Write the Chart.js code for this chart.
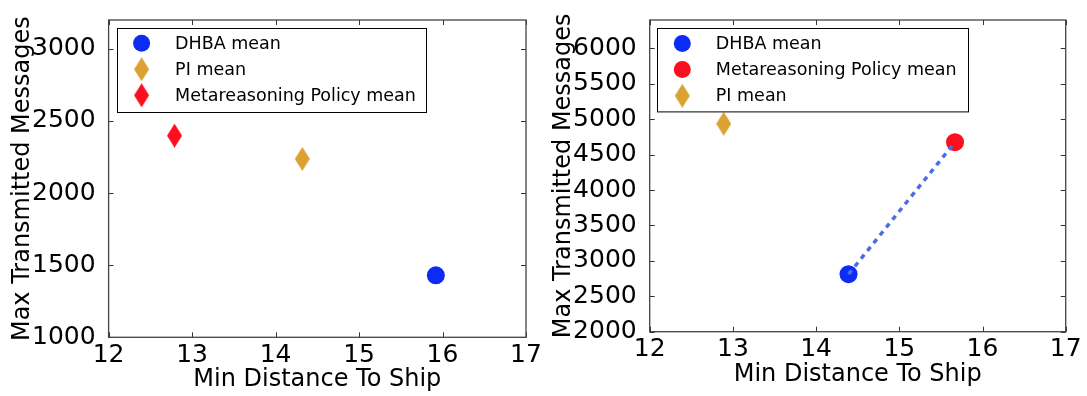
<!DOCTYPE html>
<html><head><meta charset="utf-8">
<script src="https://cdn.jsdelivr.net/npm/chart.js@4.4.0/dist/chart.umd.min.js"></script>
<style>
html,body{margin:0;padding:0;background:#fff;}
#wrap{position:relative;width:1087px;height:396px;overflow:hidden;background:#fff;}
#c1{position:absolute;left:0;top:0;}
#c2{position:absolute;left:540px;top:0;}
</style></head><body>
<div id="wrap"><canvas id="c1" width="540" height="396"></canvas><canvas id="c2" width="547" height="396"></canvas></div>
<script>
// ---- data ----
const xTicks = [12, 13, 14, 15, 16, 17];
const leftYTicks = [1000, 1500, 2000, 2500, 3000];
const rightYTicks = [2000, 2500, 3000, 3500, 4000, 4500, 5000, 5500, 6000];
const xTitle = 'Min Distance To Ship';
const yTitle = 'Max Transmitted Messages';

// left panel
const leftDhbaX = [15.92], leftDhbaY = [1430];
const leftPiX = [14.32], leftPiY = [2237];
const leftMetaX = [12.79], leftMetaY = [2398];
const leftLegend = ['DHBA mean', 'PI mean', 'Metareasoning Policy mean'];

// right panel
const rightDhbaX = [14.39], rightDhbaY = [2812];
const rightMetaX = [15.67], rightMetaY = [4676];
const rightPiX = [12.89], rightPiY = [4935];
const rightLegend = ['DHBA mean', 'Metareasoning Policy mean', 'PI mean'];

// ---- styles ----
const BLUE = '#0c2cf6', RED = '#fb0f1e', GOLD = '#d9a232', LINE = '#4a6fe0';
Chart.defaults.font.family = "'DejaVu Sans', sans-serif";
Chart.defaults.color = '#000';

function makeDiamond(color) {
  const c = document.createElement('canvas');
  const w = 15, h = 24; c.width = w; c.height = h;
  const g = c.getContext('2d');
  g.fillStyle = color; g.beginPath();
  g.moveTo(w / 2, 0); g.lineTo(w, h / 2); g.lineTo(w / 2, h); g.lineTo(0, h / 2);
  g.closePath(); g.fill();
  return c;
}
const toPts = (xs, ys) => xs.map((x, i) => ({ x: x, y: ys[i] }));

const mplPlugin = {
  id: 'mpl',
  afterDraw(chart) {
    const o = chart.options.plugins.mpl;
    const { ctx, chartArea: a, scales: { x, y } } = chart;
    ctx.save();
    // inward ticks on all sides
    ctx.strokeStyle = '#333'; ctx.lineWidth = 1;
    ctx.beginPath();
    o.xTicks.forEach(v => {
      const p = Math.round(x.getPixelForValue(v)) + 0.5;
      ctx.moveTo(p, a.bottom); ctx.lineTo(p, a.bottom - 5);
      ctx.moveTo(p, a.top); ctx.lineTo(p, a.top + 5);
    });
    o.yTicks.forEach(v => {
      const p = Math.round(y.getPixelForValue(v)) + 0.5;
      ctx.moveTo(a.left, p); ctx.lineTo(a.left + 5, p);
      ctx.moveTo(a.right, p); ctx.lineTo(a.right - 5, p);
    });
    ctx.stroke();
    // frame
    ctx.strokeStyle = '#444'; ctx.lineWidth = 1.3;
    ctx.strokeRect(a.left, a.top, a.right - a.left, a.bottom - a.top);
    // legend
    const L = o.legend;
    const lx = a.left + L.dx, ly = a.top + L.dy;
    ctx.fillStyle = '#fff';
    ctx.fillRect(lx, ly, L.w, L.h);
    ctx.strokeStyle = '#000'; ctx.lineWidth = 1;
    ctx.strokeRect(Math.round(lx) + 0.5, Math.round(ly) + 0.5, L.w, L.h);
    ctx.font = L.fontSize + "px 'DejaVu Sans'";
    ctx.textBaseline = 'middle'; ctx.textAlign = 'left';
    L.items.forEach((it, i) => {
      const cy = ly + L.firstRow + i * L.rowH;
      const mx = lx + L.markerX;
      if (it.shape === 'circle') {
        ctx.fillStyle = it.color; ctx.beginPath();
        ctx.arc(mx, cy, 8.5, 0, Math.PI * 2); ctx.fill();
      } else {
        const d = makeDiamond(it.color);
        ctx.drawImage(d, mx - d.width / 2, cy - d.height / 2);
      }
      ctx.fillStyle = '#000';
      ctx.fillText(it.label, lx + L.textX, cy + 1);
    });
    ctx.restore();
  }
};

function makeChart(id, cfg) {
  return new Chart(document.getElementById(id), {
    type: 'scatter',
    data: { datasets: cfg.datasets },
    options: {
      responsive: false, animation: false, devicePixelRatio: 1,
      layout: { padding: cfg.padding },
      plugins: {
        legend: { display: false }, tooltip: { enabled: false },
        mpl: { xTicks: xTicks, yTicks: cfg.yTicks, legend: cfg.legend }
      },
      scales: {
        x: {
          type: 'linear', min: 12, max: 17,
          grid: { display: false }, border: { display: false },
          ticks: { font: { size: 25 }, color: '#000', padding: -5, maxRotation: 0, callback: v => String(v) },
          afterBuildTicks: s => { s.ticks = xTicks.map(v => ({ value: v })); },
          afterFit: s => { s.height = cfg.xHeight; },
          title: { display: true, text: xTitle, font: { size: 24 }, color: '#000', padding: { top: 0, bottom: cfg.xTitlePad } }
        },
        y: {
          type: 'linear', min: cfg.yMin, max: cfg.yMax,
          grid: { display: false }, border: { display: false },
          ticks: { font: { size: 25 }, color: '#000', padding: 5, callback: v => String(v) },
          afterBuildTicks: s => { s.ticks = cfg.yTicks.map(v => ({ value: v })); },
          afterFit: s => { s.width = cfg.yWidth; },
          title: { display: true, text: yTitle, font: { size: 24 }, color: '#000', padding: { top: cfg.yTitlePad, bottom: 0 } }
        }
      }
    },
    plugins: [mplPlugin]
  });
}

const dL = { blue: makeDiamond(BLUE), red: makeDiamond(RED), gold: makeDiamond(GOLD) };

makeChart('c1', {
  padding: { left: 0, right: 14, top: 15, bottom: 0 },
  xHeight: 58.7, yWidth: 108.6, xTitlePad: 2, yTitlePad: 8.6,
  yMin: 1000, yMax: 3200, yTicks: leftYTicks,
  datasets: [
    { label: leftLegend[0], data: toPts(leftDhbaX, leftDhbaY), pointStyle: 'circle', pointRadius: 9, backgroundColor: BLUE, borderWidth: 0, order: 1 },
    { label: leftLegend[1], data: toPts(leftPiX, leftPiY), pointStyle: dL.gold, pointRadius: 9, backgroundColor: GOLD, borderWidth: 0, order: 1 },
    { label: leftLegend[2], data: toPts(leftMetaX, leftMetaY), pointStyle: dL.red, pointRadius: 9, backgroundColor: RED, borderWidth: 0, order: 1 }
  ],
  legend: { dx: 8, dy: 8.3, w: 309, h: 84, firstRow: 15, rowH: 26, markerX: 25, textX: 58.5, fontSize: 17.5,
    items: [
      { label: leftLegend[0], shape: 'circle', color: BLUE },
      { label: leftLegend[1], shape: 'diamond', color: GOLD },
      { label: leftLegend[2], shape: 'diamond', color: RED }
    ] }
});

makeChart('c2', {
  padding: { left: 0, right: 21.3, top: 9.3, bottom: 0 },
  xHeight: 64.3, yWidth: 109.7, xTitlePad: 6.5, yTitlePad: 9,
  yMin: 2000, yMax: 6400, yTicks: rightYTicks,
  datasets: [
    { label: 'link', data: toPts(rightDhbaX.concat(rightMetaX), rightDhbaY.concat(rightMetaY)), showLine: true, borderColor: LINE, borderWidth: 3.5, borderDash: [5, 5], pointRadius: 0, fill: false, order: 0 },
    { label: rightLegend[0], data: toPts(rightDhbaX, rightDhbaY), pointStyle: 'circle', pointRadius: 9, backgroundColor: BLUE, borderWidth: 0, order: 1 },
    { label: rightLegend[1], data: toPts(rightMetaX, rightMetaY), pointStyle: 'circle', pointRadius: 9, backgroundColor: RED, borderWidth: 0, order: 1 },
    { label: rightLegend[2], data: toPts(rightPiX, rightPiY), pointStyle: dL.gold, pointRadius: 9, backgroundColor: GOLD, borderWidth: 0, order: 1 }
  ],
  legend: { dx: 7.6, dy: 8, w: 311, h: 83.4, firstRow: 15.4, rowH: 26.2, markerX: 25, textX: 58.5, fontSize: 17.5,
    items: [
      { label: rightLegend[0], shape: 'circle', color: BLUE },
      { label: rightLegend[1], shape: 'circle', color: RED },
      { label: rightLegend[2], shape: 'diamond', color: GOLD }
    ] }
});
</script>
</body></html>
